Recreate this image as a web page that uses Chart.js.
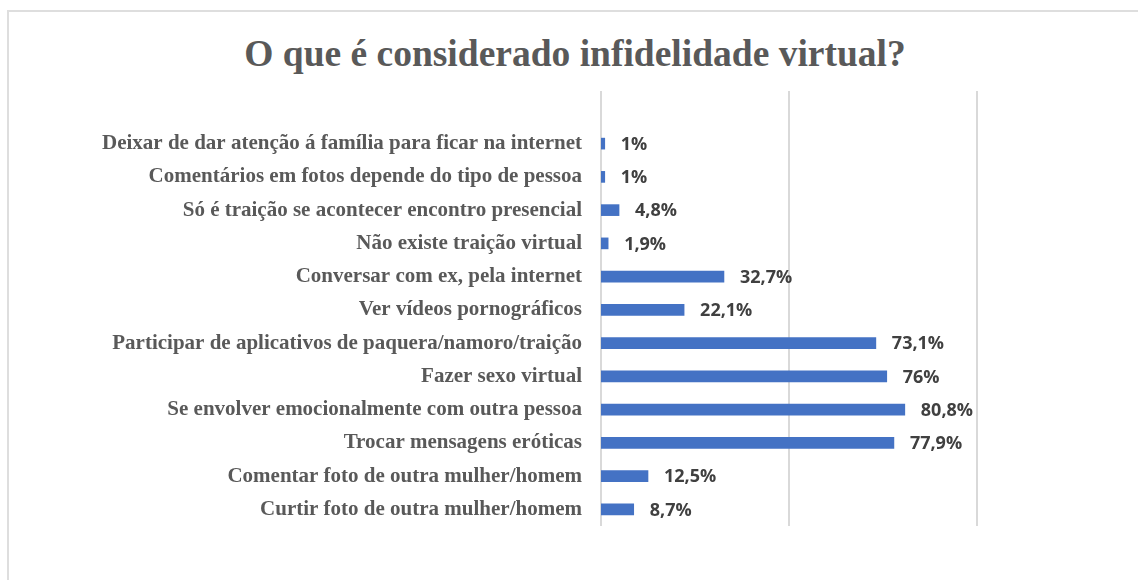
<!DOCTYPE html>
<html lang="pt">
<head>
<meta charset="utf-8">
<title>O que é considerado infidelidade virtual?</title>
<script src="https://cdn.jsdelivr.net/npm/chart.js@4.4.0/dist/chart.umd.min.js"></script>
<style>
    html, body { margin: 0; padding: 0; background: #fff; overflow: hidden; }
    #frame {
        position: absolute; left: 7px; top: 10px;
        width: 1200px; height: 700px;
        border: 2px solid #dedede; box-sizing: border-box;
    }
    #chartTitle {
        position: absolute; left: 0; top: 32px; width: 1150px;
        line-height: 45px; text-align: center;
        font: bold 37.5px "Liberation Serif", "Times New Roman", serif;
        color: #595959;
    }
    #wrap { position: absolute; left: 0; top: 0; width: 1138px; height: 580px; }
</style>
</head>
<body>
<div id="frame"></div>
<div id="chartTitle">O que é considerado infidelidade virtual?</div>
<div id="wrap"><canvas id="infidelityChart"></canvas></div>
<script>
// categories, top to bottom
const categories = [
    "Deixar de dar atenção á família para ficar na internet",
    "Comentários em fotos depende do tipo de pessoa",
    "Só é traição se acontecer encontro presencial",
    "Não existe traição virtual",
    "Conversar com ex, pela internet",
    "Ver vídeos pornográficos",
    "Participar de aplicativos de paquera/namoro/traição",
    "Fazer sexo virtual",
    "Se envolver emocionalmente com outra pessoa",
    "Trocar mensagens eróticas",
    "Comentar foto de outra mulher/homem",
    "Curtir foto de outra mulher/homem"
];
// percentages
const percentValues = [1, 1, 4.8, 1.9, 32.7, 22.1, 73.1, 76, 80.8, 77.9, 12.5, 8.7];
// x axis grid values (no labels shown)
const gridTicks = [0, 50, 100];

// draw the vertical gridlines a bit above the bars, like the original
const extendedGrid = {
    id: 'extendedGrid',
    beforeDatasetsDraw(chart) {
        const { ctx, chartArea, scales } = chart;
        ctx.save();
        ctx.strokeStyle = '#d9d9d9';
        ctx.lineWidth = 2;
        gridTicks.forEach(v => {
            const x = Math.round(scales.x.getPixelForValue(v));
            ctx.beginPath();
            ctx.moveTo(x, chartArea.top - 36);
            ctx.lineTo(x, chartArea.bottom);
            ctx.stroke();
        });
        ctx.restore();
    }
};

// value labels at the end of every bar
const barValueLabels = {
    id: 'barValueLabels',
    afterDatasetsDraw(chart) {
        const { ctx } = chart;
        const meta = chart.getDatasetMeta(0);
        ctx.save();
        ctx.font = 'bold 18px "Open Sans", sans-serif';
        ctx.fillStyle = '#404040';
        ctx.textAlign = 'left';
        ctx.textBaseline = 'middle';
        meta.data.forEach((bar, i) => {
            const txt = String(percentValues[i]).replace('.', ',') + '%';
            ctx.fillText(txt, bar.x + 16, bar.y + 1);
        });
        ctx.restore();
    }
};

const ctx = document.getElementById('infidelityChart').getContext('2d');
new Chart(ctx, {
    type: 'bar',
    data: {
        labels: categories,
        datasets: [{
            data: percentValues,
            backgroundColor: '#4472C4',
            borderWidth: 0,
            barThickness: 11
        }]
    },
    options: {
        indexAxis: 'y',
        responsive: true,
        maintainAspectRatio: false,
        animation: false,
        layout: { padding: { top: 127, right: 161, bottom: 46, left: 0 } },
        plugins: {
            legend: { display: false },
            tooltip: { enabled: false },
            title: { display: false }
        },
        scales: {
            x: {
                min: 0,
                max: 100,
                ticks: { display: false, stepSize: 50 },
                grid: { display: false },
                border: { display: false }
            },
            y: {
                ticks: {
                    color: '#595959',
                    padding: 11,
                    font: { family: '"Liberation Serif", "Times New Roman", serif', size: 21, weight: 'bold' }
                },
                grid: { display: false },
                border: { display: false },
                afterFit(scale) { scale.width = 601; }
            }
        }
    },
    plugins: [extendedGrid, barValueLabels]
});
</script>
</body>
</html>
